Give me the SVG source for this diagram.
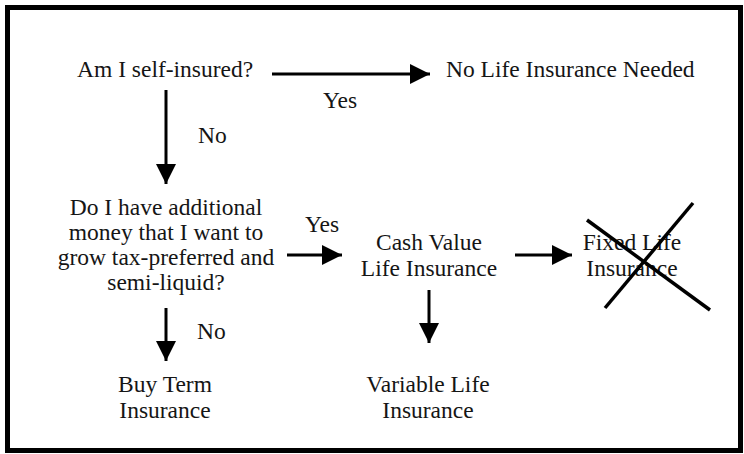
<svg xmlns="http://www.w3.org/2000/svg" width="744" height="454" viewBox="0 0 744 454">
  <style>
    text { font-size: 23.5px; fill: #151515; }
    .c { text-anchor: middle; }
    .conn { stroke: #000; stroke-width: 3; fill: none; marker-end: url(#ah); }
    .cross { stroke: #000; stroke-width: 3.5; fill: none; }
  </style>
  <defs>
    <marker id="ah" markerUnits="userSpaceOnUse" viewBox="0 0 20 20" refX="20" refY="10" markerWidth="20" markerHeight="20" orient="auto">
      <path d="M0,0 L20,10 L0,20 z" fill="#000"/>
    </marker>
  </defs>
  <rect x="0" y="0" width="744" height="454" fill="#fff"/>
  <rect id="frame" x="7.5" y="7.5" width="733" height="443" fill="none" stroke="#000" stroke-width="5"/>

  <g id="connectors" font-family="Liberation Serif, serif">
    <line class="conn" x1="272" y1="74" x2="430" y2="74"/>
    <line class="conn" x1="166" y1="90" x2="166" y2="184"/>
    <line class="conn" x1="287" y1="255" x2="342" y2="255"/>
    <line class="conn" x1="515" y1="255" x2="572" y2="255"/>
    <line class="conn" x1="166" y1="308" x2="166" y2="361"/>
    <line class="conn" x1="429" y1="290" x2="429" y2="343"/>
    <text x="340" y="108" class="c">Yes</text>
    <text x="198" y="143">No</text>
    <text x="322" y="232" class="c">Yes</text>
    <text x="197" y="339">No</text>
  </g>

  <g id="self-insured" font-family="Liberation Serif, serif">
    <text x="77" y="77">Am I self-insured?</text>
  </g>
  <g id="no-life-insurance" font-family="Liberation Serif, serif">
    <text x="446" y="77">No Life Insurance Needed</text>
  </g>
  <g id="additional-money" font-family="Liberation Serif, serif">
    <text x="166" y="215" class="c">Do I have additional</text>
    <text x="166" y="240" class="c">money that I want to</text>
    <text x="166" y="265" class="c">grow tax-preferred and</text>
    <text x="166" y="290" class="c">semi-liquid?</text>
  </g>
  <g id="cash-value" font-family="Liberation Serif, serif">
    <text x="429" y="250" class="c">Cash Value</text>
    <text x="429" y="276" class="c">Life Insurance</text>
  </g>
  <g id="fixed-life" font-family="Liberation Serif, serif">
    <text x="632" y="250" class="c">Fixed Life</text>
    <text x="632" y="276" class="c">Insurance</text>
    <line class="cross" x1="587" y1="220" x2="710" y2="310"/>
    <line class="cross" x1="693" y1="203" x2="605" y2="308"/>
  </g>
  <g id="buy-term" font-family="Liberation Serif, serif">
    <text x="165" y="392" class="c">Buy Term</text>
    <text x="165" y="418" class="c">Insurance</text>
  </g>
  <g id="variable-life" font-family="Liberation Serif, serif">
    <text x="428" y="392" class="c">Variable Life</text>
    <text x="428" y="418" class="c">Insurance</text>
  </g>
</svg>
